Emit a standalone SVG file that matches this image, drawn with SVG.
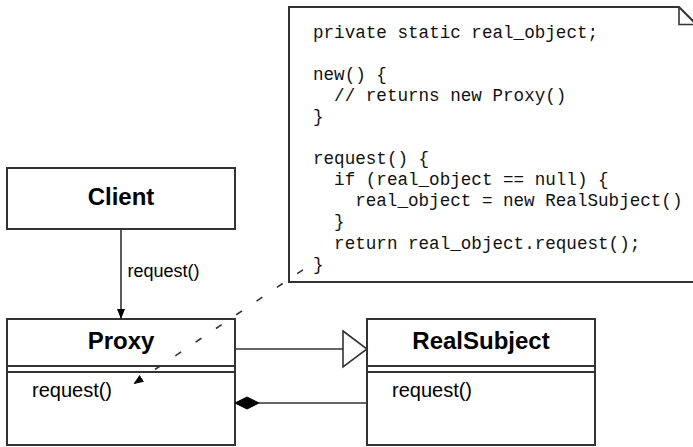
<svg xmlns="http://www.w3.org/2000/svg" width="693" height="447" viewBox="0 0 693 447">
<style>
.box{fill:#fff;stroke:#333;stroke-width:2}
.sep{stroke:#333;stroke-width:2}
.title{font-family:"Liberation Sans",Arial,sans-serif;font-weight:bold;font-size:24px;text-anchor:middle;fill:#000}
.op{font-family:"Liberation Sans",Arial,sans-serif;font-size:20px;fill:#000}
.lbl{font-family:"Liberation Sans",Arial,sans-serif;font-size:18px;fill:#000}
.code{font-family:"Liberation Mono","Courier New",monospace;font-size:17.6px;fill:#111}
.conn{fill:none;stroke:#333;stroke-width:1.6}
</style>
<defs>
<marker id="arrow" markerUnits="userSpaceOnUse" markerWidth="12" markerHeight="10" refX="10" refY="4" orient="auto">
<path d="M0,0 L10,4 L0,8 z" fill="#000"/>
</marker>
</defs>

<g id="note">
<path class="box" d="M289,7 H679 L697,25 V282 H289 Z"/>
<path class="conn" d="M679,7 V24.5 H697" stroke-width="2"/>
<text class="code" x="313" y="37.5">private static real_object;</text>
<text class="code" x="313" y="79.7">new() {</text>
<text class="code" x="334.1" y="100.8">// returns new Proxy()</text>
<text class="code" x="313" y="121.9">}</text>
<text class="code" x="313" y="164.1">request() {</text>
<text class="code" x="334.1" y="185.2">if (real_object == null) {</text>
<text class="code" x="355.2" y="206.3">real_object = new RealSubject()</text>
<text class="code" x="334.1" y="227.4">}</text>
<text class="code" x="334.1" y="248.5">return real_object.request();</text>
<text class="code" x="313" y="269.6">}</text>
</g>

<g id="client">
<rect class="box" x="7" y="168" width="228" height="61"/>
<text class="title" x="121" y="205">Client</text>
</g>

<g id="proxy">
<rect class="box" x="7" y="319" width="228" height="126"/>
<line class="sep" x1="7" y1="366" x2="235" y2="366"/>
<line class="sep" x1="7" y1="372" x2="235" y2="372"/>
<text class="title" x="121" y="349">Proxy</text>
<text class="op" x="32" y="396.5">request()</text>
</g>

<g id="realsubject">
<rect class="box" x="367" y="319" width="228" height="126"/>
<line class="sep" x1="367" y1="366" x2="595" y2="366"/>
<line class="sep" x1="367" y1="372" x2="595" y2="372"/>
<text class="title" x="481" y="349">RealSubject</text>
<text class="op" x="392" y="396.5">request()</text>
</g>

<g id="connectors">
<line class="conn" x1="121" y1="229" x2="121" y2="319" marker-end="url(#arrow)"/>
<text class="lbl" x="127.5" y="277">request()</text>
<line class="conn" x1="235" y1="349" x2="343" y2="349"/>
<polygon points="343,331 367,349 343,367" fill="#fff" stroke="#333" stroke-width="1.6"/>
<line class="conn" x1="259" y1="403" x2="367" y2="403"/>
<polygon points="235,403 247,397 259,403 247,409" fill="#000" stroke="#000" stroke-width="1"/>
<line class="conn" x1="303" y1="269.8" x2="133.5" y2="384" stroke-dasharray="7 17.5" marker-end="url(#arrow)"/>
</g>
</svg>
